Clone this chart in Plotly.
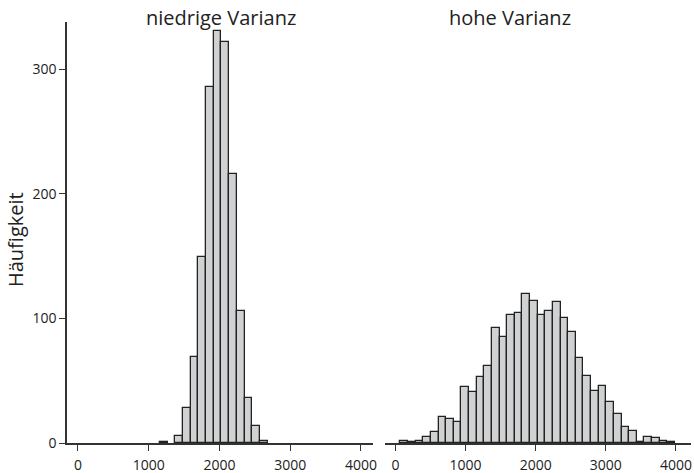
import plotly.graph_objects as go
from plotly.subplots import make_subplots

# Histogram bins (shared)
bin_start = 70
bin_width = 108.8
n_bins = 36

# Counts per bin, low variance (bins 0..35)
counts_low = [0, 0, 0, 0, 0, 0, 0, 0, 0, 0, 1, 0, 6, 28, 69, 149, 286, 331,
              322, 216, 106, 36, 14, 2, 0, 0, 0, 0, 0, 0, 0, 0, 0, 0, 0, 0]
# Counts per bin, high variance
counts_high = [2, 1, 2, 5, 9, 21, 19, 17, 45, 41, 53, 62, 92, 85, 103, 104, 120, 114,
               103, 106, 113, 100, 89, 68, 54, 42, 46, 33, 23, 13, 10, 1, 5, 4, 2, 1]

panel_titles = ["niedrige Varianz", "hohe Varianz"]
x_ticks = [0, 1000, 2000, 3000, 4000]
y_ticks = [0, 100, 200, 300]
y_title = "Häufigkeit"

centers = [bin_start + bin_width * (i + 0.5) for i in range(n_bins)]

FONT = "Open Sans"
AX = "#333333"
TXT = "#222222"

fig = make_subplots(rows=1, cols=2, shared_yaxes=True, horizontal_spacing=0.02)

for col, counts in ((1, counts_low), (2, counts_high)):
    fig.add_trace(go.Bar(
        x=centers, y=[c if c > 0 else None for c in counts], width=bin_width,
        marker=dict(color="#d0d1d3", line=dict(color="#222222", width=1.3)),
        showlegend=False, hoverinfo="x+y"), row=1, col=col)

W, H = 694, 473
ml, mr, mt, mb = 67, 3, 22, 30
pw = W - ml - mr
ph = H - mt - mb
d1 = (373 - ml) / pw
d2 = (385 - ml) / pw

axis_common = dict(tickvals=x_ticks, ticks="outside", ticklen=6,
                   tickwidth=1.3, tickcolor=AX, showline=True, linecolor=AX, linewidth=1.6,
                   showgrid=False, zeroline=False, ticklabelstandoff=2, automargin=False,
                   tickfont=dict(family=FONT, size=14, color=TXT))
fig.update_layout(
    width=W, height=H,
    margin=dict(l=ml, r=mr, t=mt, b=mb),
    plot_bgcolor="white", paper_bgcolor="white",
    bargap=0,
    font=dict(family=FONT, color=TXT),
    xaxis=dict(domain=[0, d1], range=[-155, 4170], **axis_common),
    xaxis2=dict(domain=[d2, 1], range=[-150, 4215], **axis_common),
    yaxis=dict(range=[0, 338], tickvals=y_ticks, ticks="outside", ticklen=6, tickwidth=1.3,
               tickcolor=AX, showline=True, linecolor=AX, linewidth=1.6, showgrid=False,
               zeroline=False, automargin=False,
               tickfont=dict(family=FONT, size=14, color=TXT)),
    yaxis2=dict(range=[0, 338], showline=False, showticklabels=False, ticks="",
                showgrid=False, zeroline=False, automargin=False),
)

def px_x(px):
    return (px - ml) / pw

def px_y(py):
    return 1 - (py - mt) / ph

title_centers = [220.5, 510]
for txt, cx in zip(panel_titles, title_centers):
    fig.add_annotation(text=txt, x=px_x(cx), xref="paper", xanchor="center",
                       y=px_y(18), yref="paper", yanchor="middle", showarrow=False,
                       font=dict(family=FONT, size=20, color=TXT))

fig.add_annotation(text=y_title, x=px_x(16), xref="paper", xanchor="center",
                   y=px_y(240), yref="paper", yanchor="middle", textangle=-90,
                   showarrow=False, font=dict(family=FONT, size=20, color=TXT))

fig.write_html("out.html", config={"displayModeBar": False},
               post_script="document.body.style.margin='0';")
